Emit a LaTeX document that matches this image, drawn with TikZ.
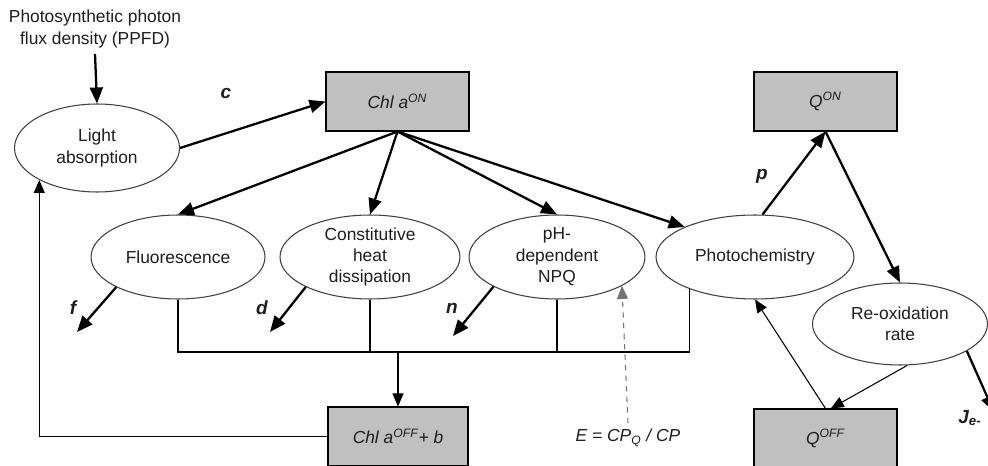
\documentclass[tikz,border=0pt]{standalone}
\usepackage{fontspec}
\setmainfont{Liberation Sans}
\usetikzlibrary{shapes.geometric,arrows.meta}

\definecolor{poolgray}{HTML}{C0C0C0}
\definecolor{inkgray}{HTML}{1E1E1E}

\tikzset{
  state/.style={ellipse, draw=black!75, line width=0.6pt, fill=white, inner sep=0pt, align=center, minimum height=1.68cm},
  pool/.style={rectangle, draw=black, line width=0.6pt, fill=poolgray, minimum width=2.86cm, minimum height=1.18cm},
  flux/.style={-{Triangle[length=0.32cm,width=0.26cm]}, line width=1.3pt},
  feed/.style={-{Triangle[length=0.26cm,width=0.22cm]}, line width=0.6pt},
  link/.style={line width=0.6pt},
  rate/.style={font=\fontsize{10.8}{12}\selectfont\bfseries\itshape}
}

\begin{document}
\begin{tikzpicture}[x=0.02cm, y=-0.02cm, font=\fontsize{9.9}{12.2}\selectfont, text=inkgray]
    \useasboundingbox (0,0) rectangle (988,466);

    % Define the nodes
    \node[align=center] (ppfd) at (95, 29) {Photosynthetic photon\\flux density (PPFD)};
    \node[state, minimum width=3.3cm, minimum height=1.76cm] (light) at (97, 148) {Light\\absorption};
    \node[pool] (chlon) at (397.5, 101.5) {\textit{Chl a\textsuperscript{ON}}};
    \node[pool] (qon) at (825.5, 101.5) {\textit{Q\textsuperscript{ON}}};

    \node[state, minimum width=3.48cm] (fluor) at (178, 257) {Fluorescence};
    \node[state, minimum width=3.6cm] (heat) at (370, 257) {Constitutive\\heat\\dissipation};
    \node[state, minimum width=3.52cm] (npq) at (557, 257) {pH-\\dependent\\NPQ};
    \node[state, minimum width=3.96cm] (photo) at (755, 257) {Photochemistry};
    \node[state, minimum width=3.5cm, minimum height=1.64cm] (reox) at (900, 324) {Re-oxidation\\rate};

    \node[pool, minimum width=2.8cm] (chloff) at (398, 436.5) {\textit{Chl a\textsuperscript{OFF}+ b}};
    \node[pool] (qoff) at (825.5, 438.5) {\textit{Q\textsuperscript{OFF}}};
    \node (eratio) at (628, 438) {\textit{E = CP\textsubscript{Q} / CP}};

    \node[rate] (c) at (226, 93) {c};
    \node[rate] (p) at (762, 176) {p};
    \node[rate] (f) at (73, 308) {f};
    \node[rate] (d) at (262, 308) {d};
    \node[rate] (n) at (452, 308) {n};
    \node[rate] (je) at (970, 418) {J\textsubscript{e-}};

    \coordinate (fend) at (77, 332);
    \coordinate (dend) at (270, 332);
    \coordinate (nend) at (453, 336);
    \coordinate (jend) at (994, 412);
    \coordinate (join) at (398, 352);

    % Draw the edges
    \draw[flux] (ppfd.south) -- (light.north);
    \draw[flux] (light.east) -- (chlon.west);

    \draw[flux] (chlon.south) -- (fluor.north);
    \draw[flux] (chlon.south) -- (heat.north);
    \draw[flux] (chlon.south) -- (npq.north);
    \draw[flux] (chlon.south) -- (photo.north west);

    \draw[flux] (photo.80) -- (qon.south);
    \draw[flux] (qon.south) -- (reox.north);
    \draw[flux] (reox.-22) -- (jend);

    \draw[flux] (fluor.206) -- (fend);
    \draw[flux] (heat.205) -- (dend);
    \draw[flux] (npq.205) -- (nend);

    \draw[link] (fluor.south) -- (fluor.south |- join) -- (photo.206 |- join) -- (photo.206);
    \draw[link] (heat.south) -- (heat.south |- join);
    \draw[link] (npq.south) -- (npq.south |- join);
    \draw[feed] (join) -- (chloff.north);
    \draw[feed] (chloff.west) -| (light.209);

    \draw[feed] (reox.-80) -- (qoff.80);
    \draw[feed] (qoff.north) -- (photo.south);
    \draw[feed, dashed, draw=black!55] (eratio.north) -- (npq.-24);
\end{tikzpicture}
\end{document}
